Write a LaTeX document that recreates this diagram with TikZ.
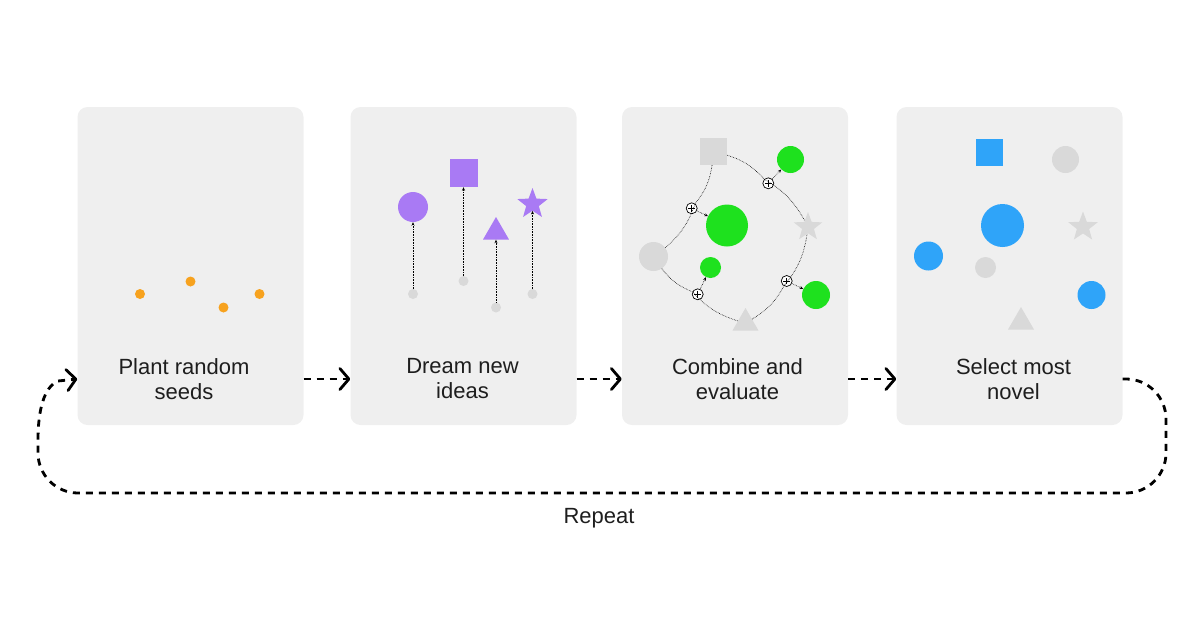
\documentclass[tikz,border=0pt]{standalone}
\usepackage{fontspec}
\setmainfont{Liberation Sans}
\usetikzlibrary{arrows.meta,shapes.geometric}

\definecolor{cardgray}{HTML}{EFEFEF}
\definecolor{inkgray}{HTML}{1E1E1E}
\definecolor{seedorange}{HTML}{F7A21E}
\definecolor{ideapurple}{HTML}{A97AF4}
\definecolor{ghostgray}{HTML}{D9D9D9}
\definecolor{mixgreen}{HTML}{1EE11E}
\definecolor{pickblue}{HTML}{2FA4F9}

\begin{document}
\begin{tikzpicture}[
        x=1pt, y=-1pt,
        panel/.style={fill=cardgray, rounded corners=10pt, minimum width=226pt, minimum height=318pt, inner sep=0pt},
        caption/.style={align=center, text=inkgray, font=\fontsize{22}{25}\selectfont},
        dot/.style={circle, inner sep=0pt, minimum size=10pt},
        blob/.style={circle, inner sep=0pt, minimum size=#1},
        sq/.style={rectangle, inner sep=0pt, minimum size=#1},
        tri/.style={regular polygon, regular polygon sides=3, inner sep=0pt, minimum size=30pt},
        starshape/.style={star, star points=5, star point ratio=2.4, inner sep=0pt, minimum size=#1},
        plusmark/.style={circle, draw, fill=white, line width=0.7pt, minimum size=11pt, inner sep=0pt,
            path picture={\draw[line width=0.8pt] ([xshift=-3.3pt]path picture bounding box.center) -- ++(6.6pt,0pt)
                ([yshift=-3.3pt]path picture bounding box.center) -- ++(0pt,6.6pt);}},
        link/.style={densely dotted, line width=0.6pt},
        sprout/.style={densely dotted, line width=0.6pt, -{Stealth[length=3.5pt,width=3pt]}},
        flow/.style={line width=2.8pt, dash pattern=on 7pt off 6pt, -{Straight Barb[round, length=9pt, width=21pt]}},
        ]
        \useasboundingbox (0,0) rectangle (1200,630);

        % Cards
        \node[panel] (p1) at (190.5,266) {};
        \node[panel] (p2) at (463.5,266) {};
        \node[panel] (p3) at (735,266) {};
        \node[panel] (p4) at (1009.5,266) {};

        % Captions
        \node[caption] (t1) at (184,379) {Plant random\\seeds};
        \node[caption] (t2) at (462.5,379) {Dream new\\ideas};
        \node[caption] (t3) at (737.5,379) {Combine and\\evaluate};
        \node[caption] (t4) at (1013.5,379) {Select most\\novel};

        % Step 1: seeds
        \node[dot, fill=seedorange] (s1) at (140,294) {};
        \node[dot, fill=seedorange] (s2) at (190.5,281.5) {};
        \node[dot, fill=seedorange] (s3) at (223.5,307.5) {};
        \node[dot, fill=seedorange] (s4) at (259.5,294) {};

        % Step 2: ideas grow out of the seeds
        \node[dot, fill=ghostgray] (d1) at (413,294) {};
        \node[dot, fill=ghostgray] (d2) at (463.5,281) {};
        \node[dot, fill=ghostgray] (d3) at (496,307.5) {};
        \node[dot, fill=ghostgray] (d4) at (532.5,294) {};
        \node[blob=30pt, fill=ideapurple] (i1) at (413,207) {};
        \node[sq=28pt, fill=ideapurple] (i2) at (463.5,173) {};
        \node[tri, fill=ideapurple] (i3) at (496,232) {};
        \node[starshape=32pt, fill=ideapurple] (i4) at (532.5,204) {};
        \draw[sprout] (d1) -- (i1);
        \draw[sprout] (d2) -- (i2);
        \draw[sprout] (d3) -- (i3);
        \draw[sprout] (d4) -- (i4);

        % Step 3: pairs are combined
        \node[sq=27pt, fill=ghostgray] (g1) at (713.5,151.5) {};
        \node[blob=29pt, fill=ghostgray] (g2) at (653.5,256.5) {};
        \node[tri, fill=ghostgray] (g3) at (745.5,323) {};
        \node[starshape=30pt, fill=ghostgray] (g4) at (808,227) {};
        \node[plusmark] (x1) at (691.7,208.3) {};
        \node[plusmark] (x2) at (768.3,183.3) {};
        \node[plusmark] (x3) at (697.7,294.3) {};
        \node[plusmark] (x4) at (786.7,281) {};
        \draw[link] (g1) to[bend left=15] (x1) to[bend left=15] (g2);
        \draw[link] (g1) to[bend left=15] (x2) to[bend left=15] (g4);
        \draw[link] (g2) to[bend right=15] (x3) to[bend right=15] (g3);
        \draw[link] (g3) to[bend right=15] (x4) to[bend right=15] (g4);
        \node[blob=42pt, fill=mixgreen] (m1) at (727,225.5) {};
        \node[blob=27pt, fill=mixgreen] (m2) at (790.5,159.5) {};
        \node[blob=21pt, fill=mixgreen] (m3) at (710.5,267.5) {};
        \node[blob=28pt, fill=mixgreen] (m4) at (816,295) {};
        \draw[sprout] (x1) -- (m1);
        \draw[sprout] (x2) -- (m2);
        \draw[sprout] (x3) -- (m3);
        \draw[sprout] (x4) -- (m4);

        % Step 4: the most novel ones are kept
        \node[sq=27pt, fill=pickblue] (k1) at (989.5,152) {};
        \node[blob=27pt, fill=ghostgray] (k2) at (1065.5,159.5) {};
        \node[blob=43pt, fill=pickblue] (k3) at (1002.5,225.5) {};
        \node[starshape=31pt, fill=ghostgray] (k4) at (1083,227) {};
        \node[blob=29pt, fill=pickblue] (k5) at (928.5,256) {};
        \node[blob=21pt, fill=ghostgray] (k6) at (985.5,267.5) {};
        \node[blob=28pt, fill=pickblue] (k7) at (1091.5,295) {};
        \node[tri, fill=ghostgray] (k8) at (1021,322) {};

        % Flow between the steps
        \draw[flow] (p1.east |- t1) -- (p2.west |- t2);
        \draw[flow] (p2.east |- t2) -- (p3.west |- t3);
        \draw[flow] (p3.east |- t3) -- (p4.west |- t4);
        % Loop back to the start
        \draw[flow] (p4.east |- t4) -- (1126,379) .. controls (1148,379) and (1166,397) .. (1166,419)
            -- (1166,453) .. controls (1166,475) and (1148,493) .. (1126,493)
            -- (78,493) .. controls (56,493) and (38,475) .. (38,453)
            -- (38,440) .. controls (38,410) and (44,387) .. (58,381) -- (p1.west |- t1);
        \node[caption] (rep) at (599,518) {Repeat};

    \end{tikzpicture}
\end{document}
